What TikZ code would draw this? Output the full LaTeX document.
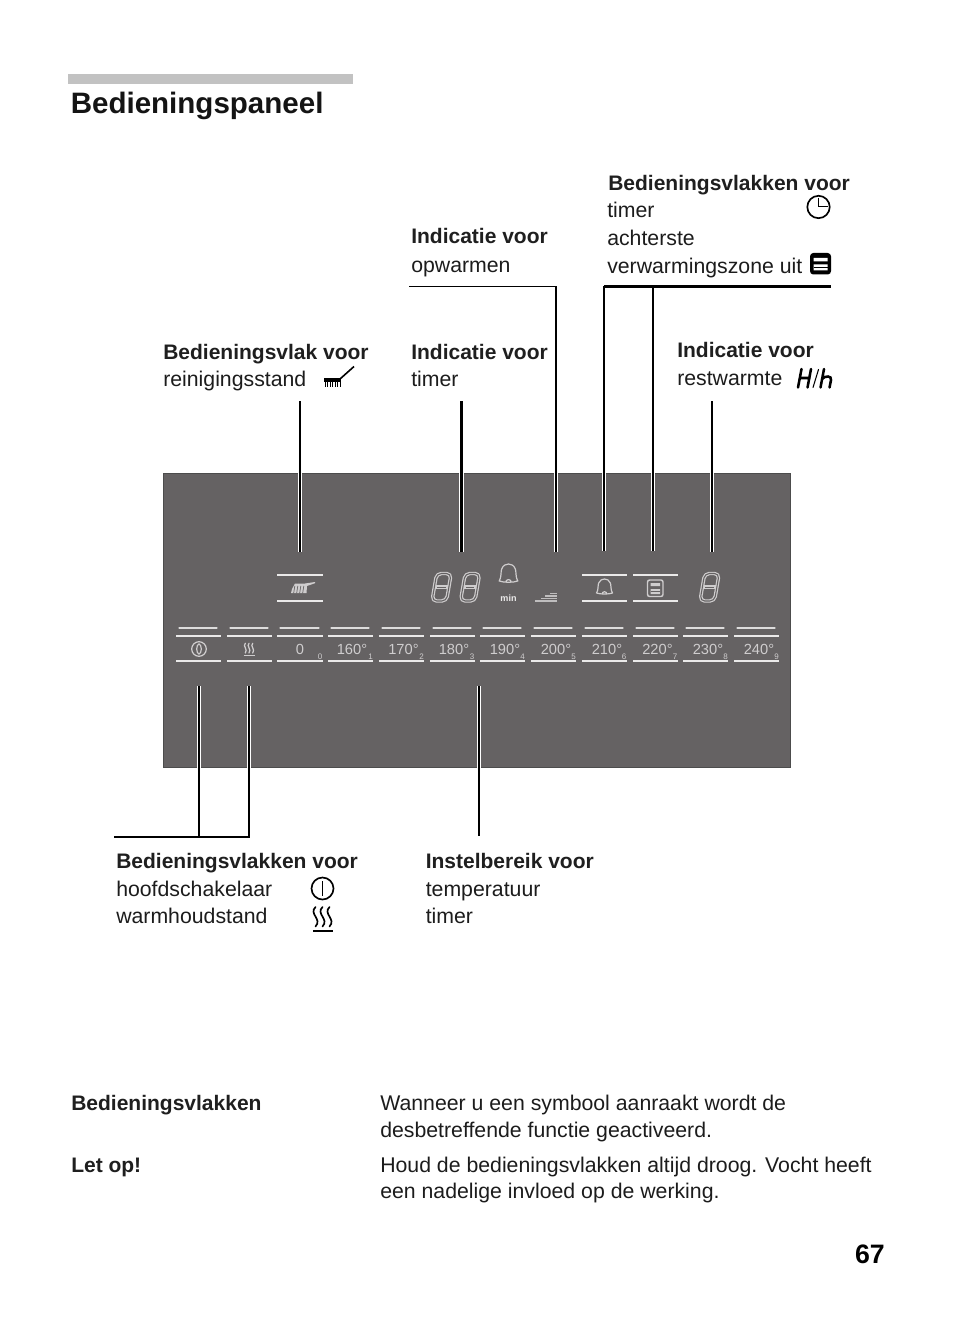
\documentclass[tikz,border=0pt]{standalone}
\usepackage{fontspec}
\setmainfont{Liberation Sans}
\definecolor{panelgrey}{HTML}{656263}
\definecolor{seggrey}{HTML}{CFCDCE}
\definecolor{barlight}{HTML}{EAE9E9}
\definecolor{headbar}{HTML}{C2C2C2}
\definecolor{inktext}{HTML}{1C1C1C}
\tikzset{
  headtext/.style={anchor=base west,inner sep=0pt,font=\fontsize{22.15pt}{24pt}\bfseries,text=black!92},
  boldtext/.style={anchor=base west,inner sep=0pt,font=\fontsize{15.75pt}{16pt}\bfseries,text=black!88},
  lighttext/.style={anchor=base west,inner sep=0pt,font=\fontsize{15.95pt}{16pt}\selectfont,text=inktext},
  templabel/.style={anchor=base,inner sep=0pt,font=\fontsize{11pt}{11pt}\selectfont,text=seggrey},
  sublabel/.style={anchor=base,inner sep=0pt,font=\fontsize{6pt}{6pt}\selectfont,text=seggrey},
  leader/.style={draw=black,line width=1.3pt,preaction={draw=white,line width=3.6pt}},
  leaderthick/.style={draw=black,line width=1.9pt,preaction={draw=white,line width=3.6pt}},
  topbar/.style={draw=black,line width=2.1pt},
  panelline/.style={draw=barlight,line width=1.2pt},
  softbar/.style={draw=barlight!90!panelgrey,line width=2pt,line cap=round},
  iconlight/.style={draw=seggrey,line width=0.9pt,fill=none},
  iconblack/.style={draw=black,line width=1.25pt,fill=none},
}
% seven segment digit: lower-left corner at (#1,#2), width #3, height #4
\newcommand{\segdigit}[4]{%
  \begin{scope}[shift={(#1,#2)},xslant=0.17]
    \draw[draw=seggrey,line width=2.6pt,rounded corners=3.5pt,line join=round]
      (0,0) rectangle (#3,-#4);
    \draw[draw=seggrey,line width=2.8pt] (1,{-#4/2}) -- ({#3-1},{-#4/2});
    \draw[draw=panelgrey,line width=0.8pt,rounded corners=3.5pt]
      (0,0) rectangle (#3,-#4);
    \draw[draw=panelgrey,line width=0.7pt] (3,{-#4/2}) -- ({#3-3},{-#4/2});
  \end{scope}}
% bell: centre-bottom at (#1,#2), half width #3, height #4
\newcommand{\bellicon}[4]{%
  \draw[iconlight,line join=round] ({#1-#3},#2)
     .. controls ({#1-#3*0.72},{#2-#4*0.22}) and ({#1-#3*0.86},{#2-#4*0.6}) .. ({#1-#3*0.72},{#2-#4*0.72})
     .. controls ({#1-#3*0.58},{#2-#4*0.92}) and ({#1-#3*0.3},{#2-#4}) .. (#1,{#2-#4})
     .. controls ({#1+#3*0.3},{#2-#4}) and ({#1+#3*0.58},{#2-#4*0.92}) .. ({#1+#3*0.72},{#2-#4*0.72})
     .. controls ({#1+#3*0.86},{#2-#4*0.6}) and ({#1+#3*0.72},{#2-#4*0.22}) .. ({#1+#3},#2)
     .. controls ({#1+#3*0.5},{#2+#4*0.1}) and ({#1-#3*0.5},{#2+#4*0.1}) .. cycle
     ({#1-#3*0.3},{#2+#4*0.08}) arc[start angle=180,end angle=360,x radius={#3*0.3},y radius={#3*0.3}];}
% S curve: x, top y, height
\newcommand{\scurve}[4]{%
  \draw[#4,line cap=round] (#1,#2) .. controls ({#1-3},{#2+#3*0.3}) and ({#1+3},{#2+#3*0.6}) .. (#1,{#2+#3})
    ;}
\begin{document}
\begin{tikzpicture}[x=0.75pt,y=-0.75pt]
\useasboundingbox (0,0) rectangle (954,1326);
\fill[white] (0,0) rectangle (954,1326);

% heading
\fill[headbar] (68,74) rectangle (353,84);
\node[headtext] (title) at (70.5,114) {Bedieningspaneel};

% panel
\node[draw=black!70,line width=0.5pt,fill=panelgrey,minimum width=470.4pt,minimum height=220.7pt,inner sep=0pt,anchor=north west] (panel) at (163,473) {};

% upper labels
\node[boldtext] (lA1) at (608,191) {Bedieningsvlakken voor};
\node[lighttext] (lA2) at (607,218) {timer};
\node[lighttext] (lA3) at (607,246) {achterste};
\node[lighttext] (lA4) at (607,274) {verwarmingszone uit};
\node[boldtext] (lB1) at (411,244) {Indicatie voor};
\node[lighttext] (lB2) at (411,272.5) {opwarmen};
\node[boldtext] (lC1) at (163,359) {Bedieningsvlak voor};
\node[lighttext] (lC2) at (163,387) {reinigingsstand};
\node[boldtext] (lD1) at (411,359) {Indicatie voor};
\node[lighttext] (lD2) at (411,387) {timer};
\node[boldtext] (lE1) at (677,358) {Indicatie voor};
\node[lighttext] (lE2) at (677,386) {restwarmte};

% lower labels
\node[boldtext] (lF1) at (116,868) {Bedieningsvlakken voor};
\node[lighttext] (lF2) at (116,896) {hoofdschakelaar};
\node[lighttext] (lF3) at (116,923.5) {warmhoudstand};
\node[boldtext] (lG1) at (425.5,868) {Instelbereik voor};
\node[lighttext] (lG2) at (425.5,896) {temperatuur};
\node[lighttext] (lG3) at (425.5,923.5) {timer};

% bottom text
\node[boldtext] (bA) at (71,1110) {Bedieningsvlakken};
\node[boldtext] (bB) at (71,1172) {Let op!};
\node[lighttext] (bC) at (380,1110) {Wanneer u een symbool aanraakt wordt de};
\node[lighttext] (bD) at (380,1137) {desbetreffende functie geactiveerd.};
\node[lighttext] (bE) at (380,1172) {Houd de bedieningsvlakken altijd droog. Vocht heeft};
\node[lighttext] (bF) at (380,1198.5) {een nadelige invloed op de werking.};
\node[anchor=base east,inner sep=0pt,font=\fontsize{20pt}{20pt}\bfseries] (pageno) at (885,1263) {67};

% connector end points
\coordinate (a1) at (300,401);   \coordinate (a2) at (300,552);
\coordinate (b1) at (461.3,401); \coordinate (b2) at (461.3,552);
\coordinate (c0) at (409,286.5); \coordinate (c1) at (556,286.5); \coordinate (c2) at (556,552);
\coordinate (d0) at (604,286.5); \coordinate (d1) at (604,551);
\coordinate (e0) at (653,286.5); \coordinate (e1) at (653,551);
\coordinate (e2) at (831,286.5);
\coordinate (f1) at (712,401);   \coordinate (f2) at (712,552);
\coordinate (g1) at (199,686);   \coordinate (g2) at (199,837);
\coordinate (h1) at (249,686);   \coordinate (h2) at (249,837);
\coordinate (h0) at (114,837);
\coordinate (i1) at (479,686);   \coordinate (i2) at (479,836);

\draw[leader] (a1) -- (a2);
\draw[leaderthick] (b1) -- (b2);
\draw[leader] (c1) -- (c2);
\draw[leader] (d0) -- (d1);
\draw[leader] (e0) -- (e1);
\draw[leader] (f1) -- (f2);
\draw[leader] (g1) -- (g2);
\draw[leaderthick] (h1) -- (h2);
\draw[leader] (i1) -- (i2);
\draw[draw=black,line width=1.3pt] (c0) -- (c1);
\draw[topbar] (d0) -- (e2);
\draw[topbar] (h0) -- ([xshift=0.75pt]h2);

% button rows
\foreach \xa/\xb in {176/221,227/272,277/323,328/373,379/424,430/475,480/525,531/576,582/627,633/678,683/728,734/779}{
  \draw[softbar] (\xa+3.5,628) -- (\xb-4.5,628);
  \draw[panelline] (\xa,636) -- (\xb,636);
  \draw[panelline] (\xa,661) -- (\xb,661);
}
% upper buttons
\foreach \xa/\xb in {277/323,582/627,633/678}{
  \draw[panelline] (\xa,575) -- (\xb,575);
  \draw[panelline] (\xa,601) -- (\xb,601);
}

% temperature labels
\node[templabel] (t0) at (300,654) {0};
\node[templabel] (t1) at (352,654) {160°};
\node[templabel] (t2) at (403.5,654) {170°};
\node[templabel] (t3) at (454,654) {180°};
\node[templabel] (t4) at (505,654) {190°};
\node[templabel] (t5) at (556,654) {200°};
\node[templabel] (t6) at (607,654) {210°};
\node[templabel] (t7) at (657.5,654) {220°};
\node[templabel] (t8) at (708,654) {230°};
\node[templabel] (t9) at (759,654) {240°};
\node[sublabel] (s0) at (320,659) {0};
\node[sublabel] (s1) at (370.7,659) {1};
\node[sublabel] (s2) at (421.7,659) {2};
\node[sublabel] (s3) at (472,659) {3};
\node[sublabel] (s4) at (522.7,659) {4};
\node[sublabel] (s5) at (573.7,659) {5};
\node[sublabel] (s6) at (624,659) {6};
\node[sublabel] (s7) at (675,659) {7};
\node[sublabel] (s8) at (725.7,659) {8};
\node[sublabel] (s9) at (776.7,659) {9};

% seven segment digits
\segdigit{432}{601}{14.5}{27.5}
\segdigit{460.5}{601}{14.5}{27.5}
\segdigit{700}{601}{14.5}{27.5}

% min bell and label
\bellicon{508.5}{581}{9.3}{17}
\node[inner sep=0pt,font=\fontsize{6.8pt}{7pt}\bfseries\selectfont,text=barlight,anchor=base] (minlabel) at (508.5,601) {min};

% preheat steps
\foreach \xs/\ys in {550/593.5,545/596,541/598.6,535/601}{
  \draw[draw=seggrey!85!panelgrey,line width=1.1pt] (\xs,\ys) -- (557,\ys);
}

% bell button
\bellicon{604.5}{593}{8}{14}
% oven button
\draw[draw=seggrey,line width=1.1pt,rounded corners=1.6pt] (647.5,580) rectangle (663,596.5);
\fill[seggrey] (650.5,583) rectangle (660,586) (650.5,589) rectangle (660,594);
\draw[draw=panelgrey,line width=0.5pt] (650.5,591.4) -- (660,591.4);

% brush panel
\fill[seggrey] (292,589) -- (295,583.5) -- (305,583.5) -- (315,582) -- (315,583.2) -- (307,586) -- (306.5,593) -- (291,593) -- cycle;
\foreach \bx in {294,297,300,303}{\draw[draw=panelgrey,line width=0.5pt] (\bx+0.8,586) -- (\bx-0.4,593.5);}

% power panel
\draw[iconlight] (199,649) circle[radius=7.3];
\draw[iconlight] (199,649) ellipse[x radius=2.3,y radius=5];
% steam panel
\foreach \sx in {245.3,249,252.7}{\scurve{\sx}{643.3}{9.7}{iconlight,line width=0.95pt}}
\draw[iconlight] (243.5,655.2) -- (255,655.2);

% black icons
\draw[iconblack] (818.5,207) circle[radius=11.2];
\draw[iconblack] (818.5,198) -- (818.5,206.5) -- (828,206.5);
\fill[black,rounded corners=2.5pt] (810,253) rectangle (831,274.5);
\fill[white] (813.5,258) rectangle (827.5,261.3) (813.5,264.5) rectangle (827.5,270.5);
\draw[draw=black,line width=0.5pt] (813.5,267) -- (827.5,267);

% brush icon
\fill[black] (324,378.3) rectangle (341,381.8);
\draw[draw=black,line width=1.2pt] (340,379) -- (354,366.5);
\foreach \bx in {325,327.5,330,332.5,335,337.5,340}{\draw[draw=black,line width=0.75pt] (\bx,381) -- (\bx,387);}

% H/h icon
\begin{scope}[line cap=round]
\draw[draw=black,line width=1.9pt] (801.5,369) -- (798,387.5) (811,369) -- (807.5,387.5) (800,378) -- (809.5,378);
\draw[draw=black,line width=0.8pt] (818.5,369.5) -- (813,387.5);
\draw[draw=black,line width=1.9pt] (824,369) -- (820.5,387.5) (822,379) .. controls (825,375.5) and (832,375.5) .. (831,380) -- (829.5,387.5);
\end{scope}

% power black
\draw[iconblack] (322.5,888.5) circle[radius=11];
\draw[iconblack] (322.5,881) -- (322.5,896);
% steam black
\foreach \sx in {315.5,322.5,329.5}{
  \draw[iconblack,line cap=round] (\sx,907) .. controls (\sx-7,914) and (\sx+7,919) .. (\sx,926.5);
}
\draw[iconblack] (313,931) -- (333,931);
\end{tikzpicture}
\end{document}
